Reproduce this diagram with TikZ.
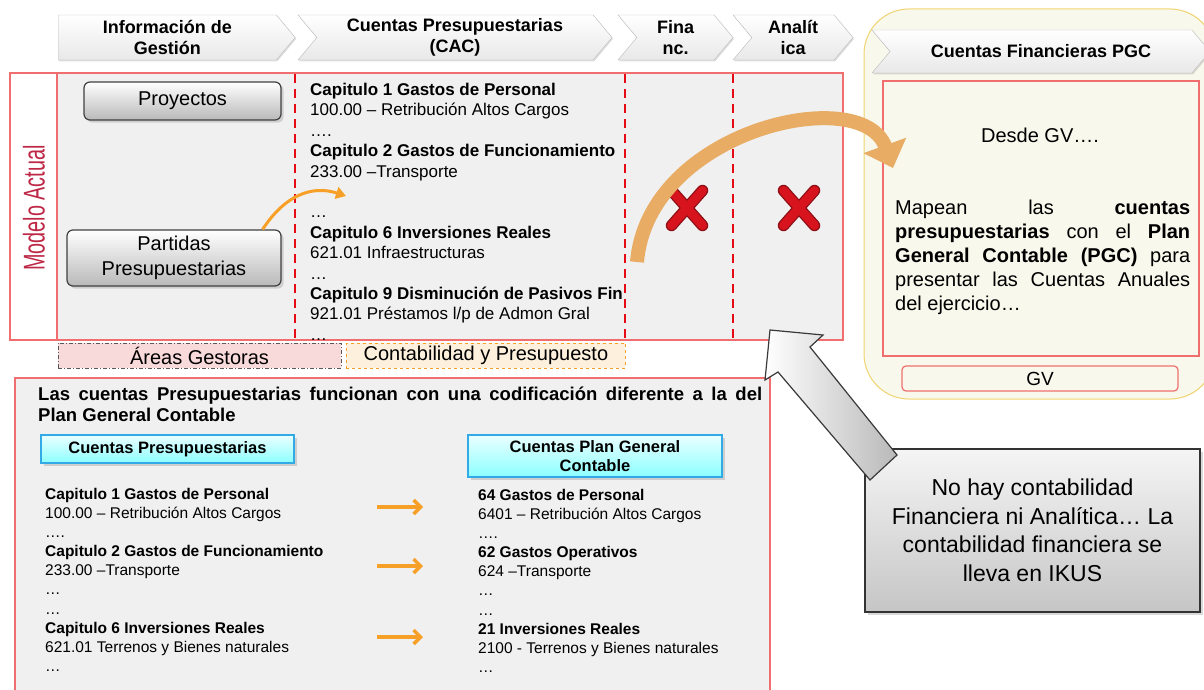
\documentclass[tikz,border=0pt]{standalone}
\usepackage{fontspec}
\setmainfont{Liberation Sans}
\usetikzlibrary{arrows.meta,positioning,shapes.symbols,shapes.misc,shadows}

\definecolor{panelgray}{RGB}{240,240,240}
\definecolor{frame}{RGB}{240,110,110}
\definecolor{sepred}{RGB}{230,10,20}
\definecolor{cream}{RGB}{248,248,236}
\definecolor{gold}{RGB}{240,212,110}
\definecolor{modelo}{RGB}{190,40,70}
\definecolor{arrorange}{RGB}{247,160,40}
\definecolor{ribbon}{RGB}{232,172,100}
\definecolor{cyanborder}{RGB}{50,170,230}
\definecolor{xred}{RGB}{215,20,30}
\definecolor{areapink}{RGB}{249,218,218}
\definecolor{contpeach}{RGB}{253,240,220}

\begin{document}
\begin{tikzpicture}[x=1pt, y=-1pt,
  header/.style={signal, signal to=east, signal pointer angle=100, draw=gray!55, top color=white, bottom color=gray!18, minimum height=45pt, inner sep=0pt, align=center, font=\bfseries\fontsize{18}{21}\selectfont, drop shadow={opacity=0.25, shadow xshift=1pt, shadow yshift=-1.5pt}},
  mainframe/.style={draw=frame, line width=1.2pt, fill=panelgray},
  button/.style={draw=black!75, line width=1.2pt, rounded corners=6pt, top color=white, bottom color=gray!55, align=center, font=\fontsize{20}{25}\selectfont, drop shadow={opacity=0.3}},
  sepline/.style={draw=sepred, line width=2.5pt, dash pattern=on 9pt off 6pt},
  xmark/.style={cross out, draw=xred, line width=9pt, line cap=round, minimum width=22pt, minimum height=26pt, inner sep=0pt, preaction={draw=xred!65!black, line width=11.5pt}},
  areabox/.style={draw=gray!70!black, dash pattern=on 4pt off 2pt on 1pt off 2pt, fill=areapink, font=\fontsize{20}{24}\selectfont},
  contbox/.style={draw=arrorange, dashed, fill=contpeach, font=\fontsize{20}{24}\selectfont},
  panel/.style={draw=gold, line width=1pt, fill=cream, rounded corners=45pt},
  textblock/.style={anchor=north west, inner sep=0pt, align=left},
  tablehead/.style={draw=cyanborder, line width=1.2pt, top color=cyan!8, bottom color=cyan!45, align=center, font=\bfseries\fontsize{16.5}{19}\selectfont, drop shadow={opacity=0.3}},
  notebox/.style={draw=gray!40!black, line width=1.5pt, top color=gray!8, bottom color=gray!45, align=center, font=\fontsize{23}{28.5}\selectfont, drop shadow={opacity=0.3}},
  ribbonarrow/.style={draw=ribbon, line width=14pt, -{Triangle[width=44pt,length=24pt]}},
  smallarrow/.style={draw=arrorange, line width=3pt, -{Triangle[width=12pt,length=10pt]}},
  maparrow/.style={draw=arrorange, line width=3.5pt, -{Straight Barb[length=7pt,width=14pt]}}
]
\useasboundingbox (0,0) rectangle (1204,690);

% panel derecho PGC
\node[panel, minimum width=351pt, minimum height=390pt] (pgcpanel) at (1039.5,204) {};
\node[header, signal from=west, minimum width=338pt, minimum height=43pt] (hpgc) at (1041,51.5) {Cuentas Financieras PGC};
\node[draw=frame, line width=1.2pt, fill=cream, minimum width=316pt, minimum height=275pt] (pgcbox) at (1041,218.5) {};
\node[font=\fontsize{20}{24}\selectfont] (desde) at (1040,135) {Desde GV….};
\node[textblock, text width=295pt, align=justify, font=\fontsize{20}{24}\selectfont] (mapean) at (895,200)
  {Mapean las \textbf{cuentas}\linebreak \textbf{presupuestarias} con el \textbf{Plan}\linebreak \textbf{General Contable (PGC)} para\linebreak presentar las Cuentas Anuales\linebreak del ejercicio…};
\node[draw=frame, line width=1.2pt, fill=cream, rounded corners=4pt, minimum width=276pt, minimum height=25pt, font=\fontsize{19}{22}\selectfont] (gv) at (1040,378.5) {GV};

% cabeceras
\node[header, minimum width=237pt, anchor=west] (hinfo) at (58,37.5) {Información de\\Gestión};
\node[header, signal from=west, minimum width=314pt] (hcac) at (455,37.5) {Cuentas Presupuestarias\\(CAC)};
\node[header, signal from=west, minimum width=115pt] (hfin) at (675.5,37.5) {Fina\\nc.};
\node[header, signal from=west, minimum width=120pt] (hana) at (793,37.5) {Analít\\ica};

% modelo actual
\node[mainframe, minimum width=786pt, minimum height=267pt] (actual) at (450,206.5) {};
\node[draw=frame, line width=1.2pt, fill=white, minimum width=47pt, minimum height=267pt] (modelobox) at (33.5,206.5) {};
\node[rotate=90, text=modelo, font=\fontsize{30}{30}\selectfont] (modelo) at (34,208) {\scalebox{0.66}[1]{Modelo Actual}};

\draw[sepline] (295,74) -- (295,340);
\draw[sepline] (625,74) -- (625,340);
\draw[sepline] (733,74) -- (733,340);

\node[button, minimum width=197pt, minimum height=38pt] (proyectos) at (182.5,101) {Proyectos};
\node[button, minimum width=214pt, minimum height=56pt] (partidas) at (174,258) {Partidas\\Presupuestarias};

\node[textblock, font=\fontsize{17}{20.4}\selectfont] (cuentas) at (310,83) {%
\textbf{Capitulo 1 Gastos de Personal}\\
100.00 – Retribución Altos Cargos\\
….\\
\textbf{Capitulo 2 Gastos de Funcionamiento}\\
233.00 –Transporte\\
\mbox{}\\
…\\
\textbf{Capitulo 6 Inversiones Reales}\\
621.01 Infraestructuras\\
…\\
\textbf{Capitulo 9 Disminución de Pasivos Fin}\\
921.01 Préstamos l/p de Admon Gral\\
…};

\node[xmark] (xfin) at (687,208) {};
\node[xmark] (xana) at (799,208) {};

\node[areabox, minimum width=283pt, minimum height=25pt] (areas) at (199.5,355.5) {Áreas Gestoras};
\node[contbox, minimum width=279pt, minimum height=25pt, right=5pt of areas] (contab) {Contabilidad y Presupuesto};

% codificacion
\node[mainframe, minimum width=755pt, minimum height=320pt] (codif) at (392.5,538) {};
\node[textblock, text width=724pt, align=justify, font=\bfseries\fontsize{18.5}{21}\selectfont] (titulo) at (38,387)
  {Las cuentas Presupuestarias funcionan con una codificación diferente a la del\linebreak Plan General Contable};
\node[tablehead, minimum width=253pt, minimum height=28pt] (tpresup) at (167.5,449) {Cuentas Presupuestarias};
\node[tablehead, minimum width=254pt, minimum height=42pt] (tplan) at (595,456) {Cuentas Plan General\\Contable};

\node[textblock, font=\fontsize{15.5}{19.1}\selectfont] (listpresup) at (45,488) {%
\textbf{Capitulo 1 Gastos de Personal}\\
100.00 – Retribución Altos Cargos\\
….\\
\textbf{Capitulo 2 Gastos de Funcionamiento}\\
233.00 –Transporte\\
…\\
…\\
\textbf{Capitulo 6 Inversiones Reales}\\
621.01 Terrenos y Bienes naturales\\
…};
\node[textblock, font=\fontsize{15.5}{19.1}\selectfont] (listplan) at (478,489) {%
\textbf{64 Gastos de Personal}\\
6401 – Retribución Altos Cargos\\
….\\
\textbf{62 Gastos Operativos}\\
624 –Transporte\\
…\\
…\\
\textbf{21 Inversiones Reales}\\
2100 - Terrenos y Bienes naturales\\
…};

\foreach \y [count=\i] in {507,566,637} {
  \coordinate (from\i) at (377,\y);
  \coordinate (to\i) at (423,\y);
  \draw[maparrow] (from\i) -- (to\i);
}

% nota IKUS
\node[notebox, minimum width=335pt, minimum height=163pt] (ikus) at (1032.5,530.5)
  {No hay contabilidad\\Financiera ni Analítica… La\\contabilidad financiera se\\lleva en IKUS};
\shade[left color=white, right color=gray!55, draw=gray!45!black, line width=1.2pt]
  (770,330) -- (823,335) -- (810,347) -- (897,455) -- (870,480) -- (778,372) -- (765,380) -- cycle;

% flechas naranjas
\coordinate (ribbonstart) at (637,262);
\coordinate (ribbontip) at (893,168);
\draw[ribbonarrow] (ribbonstart) .. controls (648,130) and (862,82) .. (ribbontip);
\coordinate (partidastip) at (346,196);
\draw[smallarrow] ([xshift=-19pt]partidas.north east) .. controls (285,195) and (312,185) .. (partidastip);
\end{tikzpicture}
\end{document}
